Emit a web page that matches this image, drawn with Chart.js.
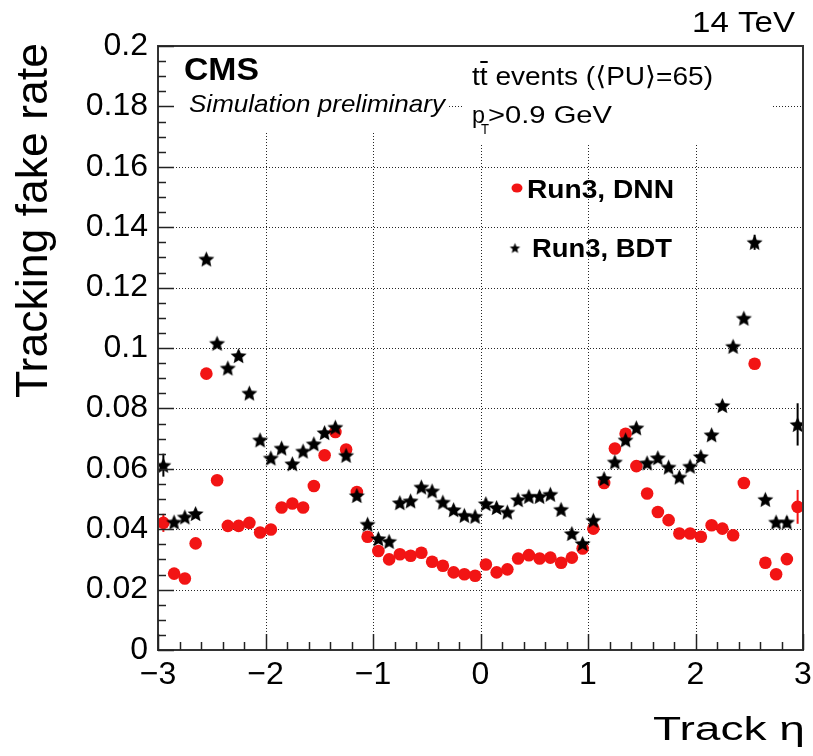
<!DOCTYPE html>
<html>
<head>
<meta charset="utf-8">
<script src="https://cdn.jsdelivr.net/npm/chart.js@4.4.0/dist/chart.umd.min.js"></script>
<style>
  html, body { margin: 0; padding: 0; background: #fff; }
  canvas { display: block; }
</style>
</head>
<body>
<canvas id="fakeRateChart" width="813" height="756"></canvas>
<script>
// Track eta bin centres
const etaBins = [
  -2.95, -2.85, -2.75, -2.65, -2.55, -2.45, -2.35, -2.25, -2.15, -2.05,
  -1.95, -1.85, -1.75, -1.65, -1.55, -1.45, -1.35, -1.25, -1.15, -1.05,
  -0.95, -0.85, -0.75, -0.65, -0.55, -0.45, -0.35, -0.25, -0.15, -0.05,
   0.05,  0.15,  0.25,  0.35,  0.45,  0.55,  0.65,  0.75,  0.85,  0.95,
   1.05,  1.15,  1.25,  1.35,  1.45,  1.55,  1.65,  1.75,  1.85,  1.95,
   2.05,  2.15,  2.25,  2.35,  2.45,  2.55,  2.65,  2.75,  2.85,  2.95
];

// Run3, DNN fake rate
const dnnRate = [
  0.0421, 0.0253, 0.0237, 0.0353, 0.0915, 0.0562, 0.0411, 0.0411, 0.0421, 0.0389,
  0.0399, 0.0472, 0.0485, 0.0472, 0.0543, 0.0645, 0.0722, 0.0664, 0.0523, 0.0375,
  0.0328, 0.0300, 0.0317, 0.0312, 0.0322, 0.0292, 0.0279, 0.0257, 0.0251, 0.0246,
  0.0283, 0.0257, 0.0267, 0.0303, 0.0314, 0.0303, 0.0306, 0.0289, 0.0306, 0.0336,
  0.0402, 0.0553, 0.0667, 0.0716, 0.0609, 0.0518, 0.0457, 0.0430, 0.0386, 0.0386,
  0.0375, 0.0413, 0.0402, 0.0380, 0.0553, 0.0948, 0.0289, 0.0251, 0.0301, 0.0474
];

// Run3, BDT fake rate
const bdtRate = [
  0.0612, 0.0424, 0.0441, 0.0452, 0.1295, 0.1016, 0.0934, 0.0975, 0.0851, 0.0696,
  0.0636, 0.0669, 0.0617, 0.0659, 0.0683, 0.0720, 0.0738, 0.0645, 0.0512, 0.0417,
  0.0369, 0.0360, 0.0488, 0.0494, 0.0540, 0.0527, 0.0490, 0.0465, 0.0446, 0.0443,
  0.0485, 0.0472, 0.0457, 0.0498, 0.0509, 0.0509, 0.0516, 0.0466, 0.0386, 0.0353,
  0.0430, 0.0568, 0.0623, 0.0696, 0.0736, 0.0620, 0.0637, 0.0606, 0.0573, 0.0609,
  0.0641, 0.0713, 0.0810, 0.1006, 0.1099, 0.1350, 0.0499, 0.0424, 0.0424, 0.0747
];

// statistical errors (only the visible ones)
const dnnErr = [
  0.0030, 0, 0, 0, 0, 0, 0, 0, 0, 0,
  0, 0, 0, 0, 0, 0, 0, 0, 0, 0,
  0, 0, 0, 0, 0, 0, 0, 0, 0, 0,
  0, 0, 0, 0, 0, 0, 0, 0, 0, 0,
  0, 0, 0, 0, 0, 0, 0, 0, 0, 0,
  0, 0, 0, 0, 0, 0, 0, 0, 0, 0.0056
];
const bdtErr = [
  0.0038, 0, 0, 0, 0, 0, 0, 0, 0, 0,
  0, 0, 0, 0, 0, 0, 0, 0, 0, 0,
  0, 0, 0, 0, 0, 0, 0, 0, 0, 0,
  0, 0, 0, 0, 0, 0, 0, 0, 0, 0,
  0, 0, 0, 0, 0, 0, 0, 0, 0, 0,
  0, 0, 0, 0, 0, 0.0025, 0, 0.0015, 0.0018, 0.0070
];

const seriesLabels = ['Run3, DNN', 'Run3, BDT'];

// filled star like ROOT marker 29
function makeStar(rOut, rIn) {
    const size = Math.ceil(rOut * 2 + 2);
    const c = document.createElement('canvas');
    c.width = size;
    c.height = size;
    const g = c.getContext('2d');
    g.beginPath();
    for (let i = 0; i < 10; i++) {
        const r = i % 2 ? rIn : rOut;
        const a = -Math.PI / 2 + i * Math.PI / 5;
        const px = size / 2 + r * Math.cos(a);
        const py = size / 2 + 0.1 * rOut + r * Math.sin(a);
        if (i === 0) g.moveTo(px, py); else g.lineTo(px, py);
    }
    g.closePath();
    g.fillStyle = '#000';
    g.fill();
    return c;
}

const starMarker = makeStar(8.4, 3.9);
const starSmall = makeStar(5.5, 2.4);
const RED = '#f21414';

// draw text stretched horizontally to a target width
function fitText(ctx, text, x, y, font, width, align) {
    ctx.save();
    ctx.font = font;
    ctx.textAlign = align || 'left';
    ctx.textBaseline = 'alphabetic';
    const w = ctx.measureText(text).width;
    ctx.translate(x, y);
    ctx.scale(width / w, 1);
    ctx.fillText(text, 0, 0);
    ctx.restore();
    return width / w;
}

const FONT = '"Liberation Sans", Arial, "DejaVu Sans", sans-serif';

const decorations = {
    id: 'decorations',
    beforeDatasetsDraw(chart) {
        const { ctx, chartArea: a, scales: { x, y } } = chart;
        ctx.save();

        // dotted grid
        ctx.strokeStyle = 'rgba(0,0,0,0.85)';
        ctx.lineWidth = 1;
        ctx.setLineDash([1, 2]);
        x.ticks.forEach(t => {
            if (t.value <= -3 || t.value >= 3) return;
            const px = Math.round(x.getPixelForValue(t.value)) + 0.5;
            ctx.beginPath();
            ctx.moveTo(px, a.top);
            ctx.lineTo(px, a.bottom);
            ctx.stroke();
        });
        y.ticks.forEach(t => {
            if (t.value <= 0 || t.value >= 0.2) return;
            const py = Math.round(y.getPixelForValue(t.value)) + 0.5;
            ctx.beginPath();
            ctx.moveTo(a.left, py);
            ctx.lineTo(a.right, py);
            ctx.stroke();
        });
        ctx.setLineDash([]);

        // text boxes hide the grid
        ctx.fillStyle = '#fff';
        ctx.fillRect(a.left + 1, a.top + 1, 447 - a.left, 132 - a.top);
        ctx.fillRect(462, a.top + 1, 771 - 462, 143 - a.top);

        // error bars
        ctx.lineWidth = 2;
        const errs = [dnnErr, bdtErr];
        const cols = [RED, '#000'];
        chart.data.datasets.forEach((ds, i) => {
            const meta = chart.getDatasetMeta(i);
            ctx.strokeStyle = cols[i];
            meta.data.forEach((pt, j) => {
                const e = errs[i][j];
                if (!e) return;
                const v = ds.data[j].y;
                ctx.beginPath();
                ctx.moveTo(pt.x, y.getPixelForValue(v + e));
                ctx.lineTo(pt.x, y.getPixelForValue(v - e));
                ctx.stroke();
            });
        });
        ctx.restore();
    },
    afterDraw(chart) {
        const { ctx, chartArea: a, scales: { x, y } } = chart;
        ctx.save();
        ctx.fillStyle = '#000';

        // frame
        ctx.strokeStyle = '#333';
        ctx.lineWidth = 2;
        ctx.strokeRect(a.left, a.top, a.right - a.left, a.bottom - a.top);

        // inward ticks
        ctx.lineWidth = 1.5;
        ctx.strokeStyle = '#222';
        for (let k = 0; k <= 40; k++) {
            const v = k * 0.005;
            const py = Math.round(y.getPixelForValue(v)) + 0.5;
            const len = k % 4 === 0 ? 16 : 8;
            ctx.beginPath();
            ctx.moveTo(a.left, py);
            ctx.lineTo(a.left + len, py);
            ctx.stroke();
        }
        for (let k = 0; k <= 30; k++) {
            const v = -3 + k * 0.2;
            const px = Math.round(x.getPixelForValue(v)) + 0.5;
            const len = k % 5 === 0 ? 16 : 8;
            ctx.beginPath();
            ctx.moveTo(px, a.bottom);
            ctx.lineTo(px, a.bottom - len);
            ctx.stroke();
        }

        // axis titles
        ctx.save();
        ctx.translate(47, 43);
        ctx.rotate(-Math.PI / 2);
        fitText(ctx, 'Tracking fake rate', 0, 0, '44px ' + FONT, 355, 'right');
        ctx.restore();
        fitText(ctx, 'Track η', 805, 740, '34px ' + FONT, 152, 'right');

        // labels
        fitText(ctx, '14 TeV', 795, 32, '30px ' + FONT, 103, 'right');
        fitText(ctx, 'CMS', 184, 80, 'bold 32px ' + FONT, 75, 'left');
        fitText(ctx, 'Simulation preliminary', 189, 112, 'italic 24px ' + FONT, 256, 'left');

        const s = fitText(ctx, 'tt events (⟨PU⟩=65)', 472, 85, '26px ' + FONT, 241, 'left');
        ctx.font = '26px ' + FONT;
        const tw = ctx.measureText('t').width * s;
        ctx.fillRect(472 + tw + 0.5, 61, tw * 0.95, 2);

        fitText(ctx, 'p', 472, 123, '24px ' + FONT, 13, 'left');
        fitText(ctx, 'T', 481, 134, '15px ' + FONT, 8, 'left');
        fitText(ctx, '>0.9 GeV', 488, 123, '24px ' + FONT, 124, 'left');

        // legend
        ctx.fillStyle = RED;
        ctx.beginPath();
        ctx.ellipse(517, 188, 5.5, 4.5, 0, 0, Math.PI * 2);
        ctx.fill();
        ctx.drawImage(starSmall, 515 - starSmall.width / 2, 248 - starSmall.height / 2);
        ctx.fillStyle = '#000';
        fitText(ctx, seriesLabels[0], 527, 198, 'bold 26px ' + FONT, 147, 'left');
        fitText(ctx, seriesLabels[1], 532, 257, 'bold 26px ' + FONT, 140, 'left');

        ctx.restore();
    }
};

const ctx = document.getElementById('fakeRateChart').getContext('2d');

const chart = new Chart(ctx, {
    type: 'scatter',
    data: {
        datasets: [
            {
                label: seriesLabels[0],
                data: etaBins.map((eta, i) => ({ x: eta, y: dnnRate[i] })),
                pointStyle: 'circle',
                pointRadius: 6.3,
                backgroundColor: RED,
                borderWidth: 0,
                order: 2
            },
            {
                label: seriesLabels[1],
                data: etaBins.map((eta, i) => ({ x: eta, y: bdtRate[i] })),
                pointStyle: starMarker,
                pointRadius: 8,
                backgroundColor: '#000',
                borderWidth: 0,
                order: 1
            }
        ]
    },
    options: {
        responsive: false,
        animation: false,
        events: [],
        layout: { padding: { left: 0, right: 10, top: 46, bottom: 0 } },
        plugins: {
            legend: { display: false },
            tooltip: { enabled: false }
        },
        scales: {
            x: {
                type: 'linear',
                min: -3,
                max: 3,
                grid: { display: false, drawTicks: false },
                border: { display: false },
                ticks: {
                    stepSize: 1,
                    padding: 6,
                    color: '#000',
                    font: { family: 'Liberation Sans', size: 32 },
                    maxRotation: 0,
                    callback: v => (v < 0 ? '\u2212' + Math.abs(v) : String(v))
                },
                afterFit: scale => {
                    scale.height = 106;
                    scale.paddingLeft = 0;
                    scale.paddingRight = 0;
                }
            },
            y: {
                type: 'linear',
                min: 0,
                max: 0.2,
                grid: { display: false, drawTicks: false },
                border: { display: false },
                ticks: {
                    stepSize: 0.02,
                    padding: 10,
                    color: '#000',
                    font: { family: 'Liberation Sans', size: 32 },
                    callback: v => String(Number(v.toFixed(2)))
                },
                afterFit: scale => {
                    scale.width = 158;
                    scale.paddingTop = 0;
                    scale.paddingBottom = 0;
                }
            }
        }
    },
    plugins: [decorations]
});
</script>
</body>
</html>
